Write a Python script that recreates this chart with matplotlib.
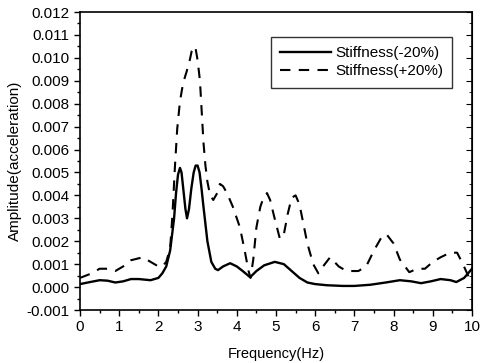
import matplotlib
matplotlib.use("Agg")
import matplotlib.pyplot as plt
from matplotlib.ticker import MultipleLocator

plt.rcParams['font.family'] = ['Liberation Sans', 'DejaVu Sans']

# Stiffness(-20%)
freq_minus = [0, 0.2, 0.5, 0.7, 0.9, 1.1, 1.3, 1.5, 1.8, 2.0, 2.1, 2.2, 2.3, 2.4,
              2.45, 2.5, 2.55, 2.59, 2.64, 2.69, 2.73, 2.78, 2.84, 2.9, 2.95, 3.0,
              3.05, 3.1, 3.15, 3.25, 3.35, 3.45, 3.52, 3.65, 3.83, 4.0, 4.15, 4.34,
              4.5, 4.7, 4.97, 5.2, 5.4, 5.6, 5.8, 6.0, 6.3, 6.7, 7.0, 7.4, 7.8,
              8.16, 8.45, 8.7, 8.95, 9.2, 9.45, 9.6, 9.8, 10.0]
amp_minus = [0.00013, 0.0002, 0.0003, 0.00028, 0.0002, 0.00025, 0.00035, 0.00035,
             0.0003, 0.0004, 0.0006, 0.0009, 0.0016, 0.003, 0.0041, 0.0049, 0.0052,
             0.0050, 0.0042, 0.0034, 0.0030, 0.0034, 0.0043, 0.0050, 0.0053,
             0.0053, 0.0050, 0.0043, 0.0035, 0.002, 0.0011, 0.0008, 0.00074,
             0.0009, 0.00104, 0.0009, 0.0007, 0.00043, 0.0007, 0.00095, 0.0011,
             0.001, 0.0007, 0.0004, 0.0002, 0.00013, 0.00008, 0.00005, 0.00005,
             0.0001, 0.0002, 0.0003, 0.00025, 0.00017, 0.00025, 0.00035, 0.0003,
             0.00022, 0.0004, 0.0008]

# Stiffness(+20%)
freq_plus = [0, 0.3, 0.5, 0.7, 0.9, 1.1, 1.3, 1.6, 1.8, 2.0, 2.1, 2.2, 2.3, 2.36,
             2.42, 2.48, 2.55, 2.63, 2.72, 2.8, 2.85, 2.9, 2.95, 3.0, 3.06, 3.1,
             3.15, 3.2, 3.25, 3.32, 3.4, 3.5, 3.57, 3.65, 3.75, 3.9, 4.08, 4.2,
             4.3, 4.35, 4.42, 4.5, 4.6, 4.68, 4.77, 4.85, 4.95, 5.1, 5.2, 5.3,
             5.4, 5.5, 5.6, 5.8, 5.95, 6.08, 6.2, 6.38, 6.6, 6.8, 7.1, 7.3, 7.5,
             7.7, 7.82, 8.0, 8.16, 8.4, 8.6, 8.8, 9.0, 9.2, 9.44, 9.62, 9.77,
             9.9, 10.0]
amp_plus = [0.0004, 0.0006, 0.0008, 0.0008, 0.0007, 0.0009, 0.00117, 0.0013,
            0.0011, 0.0009, 0.0009, 0.0011, 0.0017, 0.0032, 0.0052, 0.0069, 0.0081,
            0.0089, 0.0094, 0.0099, 0.0103, 0.0105, 0.0104, 0.0099, 0.0090, 0.0078,
            0.0063, 0.0053, 0.0046, 0.0040, 0.0038, 0.0041, 0.0045, 0.0044,
            0.0041, 0.0035, 0.0026, 0.0016, 0.0007, 0.0004, 0.0012, 0.0026,
            0.0035, 0.0039, 0.0041, 0.0038, 0.0031, 0.0021, 0.0023, 0.0032,
            0.0039, 0.0040, 0.0036, 0.0019, 0.001, 0.0006, 0.0009, 0.0013, 0.0009,
            0.0007, 0.0007, 0.0009, 0.0016, 0.0022, 0.0023, 0.0019, 0.0012,
            0.00065, 0.0008, 0.0008, 0.0011, 0.0013, 0.0015, 0.0015, 0.001,
            0.0005, 0.0001]

fig = plt.figure(figsize=(4.81, 3.63), dpi=100)
ax = fig.add_axes([80 / 481, 53 / 363, 392 / 481, 298 / 363])

ax.plot(freq_minus, amp_minus, color='black', lw=1.7, label='Stiffness(-20%)')
ax.plot(freq_plus, amp_plus, color='black', lw=1.5, dashes=(5, 4),
        label='Stiffness(+20%)')

ax.set_xlim(0, 10)
ax.set_ylim(-0.001, 0.012)
ax.xaxis.set_major_locator(MultipleLocator(1))
ax.xaxis.set_minor_locator(MultipleLocator(0.5))
ax.yaxis.set_major_locator(MultipleLocator(0.001))
ax.yaxis.set_minor_locator(MultipleLocator(0.0005))
ax.yaxis.set_major_formatter(plt.FormatStrFormatter('%.3f'))
ax.tick_params(which='both', direction='out', labelsize=11, width=1)
ax.tick_params(which='major', length=4)
ax.tick_params(which='minor', length=2.5)
for s in ax.spines.values():
    s.set_linewidth(1.2)

# right spine ticks point inward
ax_r = ax.secondary_yaxis('right')
ax_r.yaxis.set_major_locator(MultipleLocator(0.001))
ax_r.yaxis.set_minor_locator(MultipleLocator(0.0005))
ax_r.tick_params(which='both', direction='in', labelright=False)
ax_r.tick_params(which='major', length=4)
ax_r.tick_params(which='minor', length=2.5)

ax.set_xlabel('Frequency(Hz)', fontsize=10.5, labelpad=9)
ax.set_ylabel('Amplitude(acceleration)', fontsize=11, labelpad=3)

leg = ax.legend(loc='upper right', bbox_to_anchor=(0.95, 0.917), fontsize=11,
                frameon=True, fancybox=False, edgecolor='black',
                handlelength=3.3, borderpad=0.6, labelspacing=0.3,
                handletextpad=0.3, borderaxespad=0)
leg.get_frame().set_linewidth(1.0)

fig.savefig('out.png', dpi=100)
